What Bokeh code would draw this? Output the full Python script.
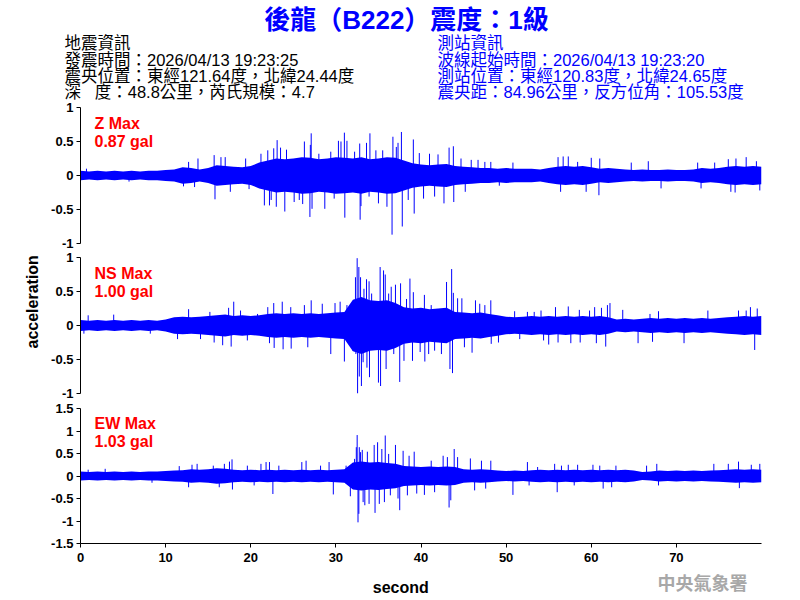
from bokeh.plotting import figure
from bokeh.layouts import column
from bokeh.models import Range1d, FixedTicker, Label, Title
from bokeh.core.properties import value
from bokeh.embed import file_html
from bokeh.resources import INLINE

# ---------------- data ----------------
title_text = "後龍（B222）震度：1級"
quake_info = ["地震資訊", "發震時間：2026/04/13 19:23:25",
              "震央位置：東經121.64度，北緯24.44度",
              "深\u00a0\u00a0\u00a0度：48.8公里，芮氏規模：4.7"]
station_info = ["測站資訊", "波線起始時間：2026/04/13 19:23:20",
                "測站位置：東經120.83度，北緯24.65度",
                "震央距：84.96公里，反方位角：105.53度"]
components = ["Z", "NS", "EW"]
max_labels = ["0.87 gal", "1.00 gal", "1.03 gal"]

sec = [0, 1, 2, 3, 4, 5, 6, 7, 8, 9, 10, 11, 12, 13, 14, 15, 16, 17, 18, 19, 20,
       21, 22, 23, 24, 25, 26, 27, 28, 29, 30, 31, 32, 33, 34, 35, 36, 37, 38, 39, 40,
       41, 42, 43, 44, 45, 46, 47, 48, 49, 50, 51, 52, 53, 54, 55, 56, 57, 58, 59, 60,
       61, 62, 63, 64, 65, 66, 67, 68, 69, 70, 71, 72, 73, 74, 75, 76, 77, 78, 79, 80]

# dense core amplitude (read per second)
z_core = [0.07, 0.06, 0.07, 0.06, 0.07, 0.06, 0.07, 0.06, 0.07, 0.07,
          0.08, 0.09, 0.12, 0.11, 0.09, 0.11, 0.15, 0.14, 0.13, 0.12, 0.14,
          0.19, 0.22, 0.25, 0.24, 0.25, 0.27, 0.26, 0.24, 0.25, 0.27, 0.26, 0.25,
          0.27, 0.24, 0.25, 0.27, 0.26, 0.22, 0.18, 0.16, 0.15, 0.16, 0.17, 0.14,
          0.13, 0.12, 0.11, 0.11, 0.10, 0.11, 0.10, 0.10, 0.10, 0.09, 0.11,
          0.13, 0.14, 0.13, 0.14, 0.12, 0.10, 0.11, 0.10, 0.09,
          0.08, 0.09, 0.08, 0.08, 0.09, 0.08, 0.08, 0.09, 0.11, 0.10, 0.11,
          0.13, 0.14, 0.13, 0.14, 0.13]
ns_core = [0.08, 0.07, 0.08, 0.07, 0.08, 0.07, 0.08, 0.07, 0.08, 0.07, 0.09,
           0.12, 0.13, 0.12, 0.13, 0.14, 0.15, 0.16, 0.14, 0.15, 0.14, 0.15,
           0.17, 0.18, 0.17, 0.18, 0.17, 0.18, 0.17, 0.18, 0.19, 0.20,
           0.38, 0.42, 0.37, 0.36, 0.37, 0.33, 0.27, 0.25, 0.26, 0.24, 0.25, 0.26,
           0.20, 0.19, 0.18, 0.19, 0.17, 0.15, 0.13, 0.12, 0.13,
           0.14, 0.13, 0.14, 0.13, 0.14, 0.13, 0.14, 0.13, 0.14, 0.12,
           0.09, 0.10, 0.09, 0.10, 0.11, 0.10, 0.11, 0.10, 0.11, 0.10,
           0.11, 0.10, 0.11, 0.12, 0.13, 0.14, 0.13, 0.14]
ew_core = [0.10, 0.09, 0.10, 0.09, 0.10, 0.09, 0.10, 0.09, 0.10, 0.10,
           0.11, 0.12, 0.13, 0.15, 0.14, 0.15, 0.17, 0.16,
           0.14, 0.13, 0.14, 0.13, 0.14, 0.13, 0.14, 0.13, 0.14, 0.13, 0.14, 0.13, 0.14, 0.15,
           0.30, 0.32, 0.30, 0.31, 0.29, 0.27, 0.22, 0.21, 0.20, 0.21, 0.20, 0.21, 0.20,
           0.15, 0.14, 0.15, 0.14, 0.12, 0.11, 0.12, 0.11,
           0.13, 0.14, 0.13, 0.14, 0.13, 0.14, 0.13, 0.14, 0.13, 0.14, 0.13, 0.14, 0.12,
           0.09, 0.10, 0.12, 0.11, 0.12, 0.11, 0.12, 0.11, 0.12, 0.13,
           0.14, 0.15, 0.14, 0.15, 0.14]

# prominent peaks (time s, acceleration)
z_spk_t = [0.7, 5.7, 12.1, 12.7, 13.4, 13.8, 15.7, 15.8, 16.5, 17.0, 17.6, 19.4, 19.8, 21.2, 21.6, 22.0, 22.2,
           22.4, 22.7, 23.0, 23.1, 23.5, 24.0, 24.2, 25.1, 25.7, 26.1, 26.3, 26.95, 27.0, 27.1, 27.2, 28.0,
           28.7, 29.4, 29.8, 30.3, 30.6, 31.0, 31.05, 31.3, 32.2, 32.8, 32.85, 32.95, 33.6, 33.9, 34.0, 34.7,
           35.0, 35.5, 36.0, 36.6, 36.7, 37.1, 37.3, 37.7, 37.8, 38.5, 39.1, 39.2, 39.8, 40.3, 41.0, 41.6,
           42.0, 42.7, 43.3, 43.8, 43.85, 44.7, 45.2, 45.9, 46.7, 47.5, 48.2, 49.2, 50.8,
           56.1, 56.4, 56.7, 57.3, 58.4, 59.4, 60.0, 60.9, 61.0, 64.7, 66.7, 68.2, 72.5, 72.9, 74.5,
           76.1, 76.4, 76.9, 77.0, 78.2, 79.4, 79.8]
z_spk_v = [0.10, -0.09, -0.16, 0.20, -0.17, 0.25, 0.30, -0.35, 0.27, 0.27, -0.24, 0.25, -0.20, 0.32, -0.44, 0.37, -0.44,
           -0.36, 0.40, -0.46, 0.52, 0.41, -0.53, 0.38, -0.39, -0.36, -0.42, 0.50, -0.61, 0.45, 0.62, -0.49, 0.32,
           -0.49, 0.35, -0.34, 0.51, 0.50, 0.63, -0.62, 0.51, 0.35, 0.47, -0.65, -0.45, 0.48, -0.31, 0.62, 0.37,
           -0.41, 0.37, -0.46, -0.87, 0.57, 0.42, 0.48, 0.64, -0.75, -0.36, 0.53, -0.56, 0.33, -0.34, 0.32, -0.31,
           0.31, -0.41, 0.41, 0.43, -0.39, 0.25, -0.24, 0.23, 0.23, 0.20, 0.20, -0.15, 0.19,
           0.27, -0.24, 0.28, 0.28, 0.20, -0.24, 0.26, -0.29, 0.25, 0.19, 0.21, -0.19, 0.19, -0.19, 0.19,
           0.24, -0.24, -0.25, 0.25, 0.27, 0.21, -0.22]

ns_spk_t = [0.4, 0.9, 3.9, 8.2, 11.4, 12.7, 14.1, 15.2, 15.7, 16.7, 17.4, 17.7, 18.0, 18.8, 19.6, 20.8, 22.0, 22.2,
            22.7, 22.75, 23.7, 23.8, 24.7, 24.75, 26.3, 26.7, 27.1, 28.4, 29.4, 29.9, 30.5, 31.0, 31.3, 32.0,
            32.3, 32.35, 32.5, 32.55, 32.7, 32.75, 32.9, 33.0, 33.2, 33.3, 33.6, 33.65, 33.9, 33.95, 34.2,
            35.0, 35.2, 35.25, 35.6, 35.8, 35.9, 36.2, 36.5, 36.8, 37.0, 37.5, 37.6, 38.0, 38.3, 38.7, 39.0,
            39.1, 39.9, 40.4, 40.45, 40.9, 41.2, 41.6, 42.4, 43.0, 43.4, 43.6, 43.7, 43.8, 44.3, 44.8, 45.1,
            46.0, 46.4, 46.9, 47.5, 48.2, 48.25, 49.1, 51.0, 51.6, 52.5,
            53.3, 54.1, 54.4, 55.0, 55.8, 56.1, 57.3, 57.6, 58.6, 58.7, 59.8, 60.4, 60.6, 61.2, 61.7, 61.9,
            62.2, 63.7, 65.5, 66.9, 67.2, 67.9, 70.9, 73.7, 77.3, 78.2, 78.7, 79.2, 79.5]
ns_spk_v = [-0.12, 0.15, 0.16, -0.12, -0.20, 0.24, -0.20, 0.20, -0.25, -0.29, 0.26, -0.31, 0.35, 0.22, -0.22, 0.17, 0.27, -0.26,
            0.33, -0.33, 0.35, -0.35, 0.27, -0.34, 0.30, -0.32, 0.37, 0.32, -0.42, 0.33, 0.35, -0.53, 0.30, -0.37,
            0.71, -0.42, 0.99, -1.00, 0.86, -0.75, 0.71, -0.89, -0.54, 0.54, 0.68, -0.62, 0.65, -0.76, 0.47,
            -0.84, 0.86, -0.89, 0.81, 0.75, -0.64, 0.47, 0.57, -0.42, 0.60, -0.83, 0.62, -0.52, 0.39, 0.69, -0.52,
            0.49, -0.39, 0.45, -0.53, -0.42, 0.30, -0.37, -0.42, 0.64, -0.64, 0.83, -0.70, 0.48, 0.40, 0.40, -0.32,
            -0.40, 0.37, 0.32, 0.30, 0.37, -0.27, -0.25, 0.21, -0.20, 0.20,
            0.20, 0.22, -0.22, -0.28, 0.27, -0.25, 0.28, -0.26, 0.23, -0.25, 0.22, 0.27, -0.26, 0.26, -0.31, 0.30,
            0.33, 0.23, -0.26, 0.17, -0.24, 0.21, -0.26, 0.22, 0.22, 0.22, 0.27, -0.36, 0.25]

ew_spk_t = [0.9, 2.9, 8.4, 11.6, 12.7, 13.1, 13.7, 15.6, 16.3, 16.9, 17.5, 17.8, 17.85, 19.6, 20.4, 21.2, 21.8, 22.2,
            22.6, 23.3, 26.0, 26.5, 28.2, 29.2, 29.7, 31.2, 31.7, 32.2, 32.4, 32.5, 32.6, 32.7, 32.75, 32.9,
            33.1, 33.2, 33.4, 33.7, 33.9, 34.5, 34.6, 34.9, 35.1, 35.4, 35.7, 35.8, 36.2, 36.4, 37.0, 37.3,
            37.5, 37.9, 38.4, 38.6, 39.2, 39.5, 40.4, 41.2, 41.6, 42.6, 43.1, 43.3, 43.5, 43.9, 44.3, 45.8,
            46.3, 47.1, 47.6, 48.2, 50.8, 52.5, 52.7,
            53.7, 55.7, 56.0, 56.5, 57.3, 58.0, 58.4, 60.2, 61.0, 61.4, 62.4, 62.9, 66.5, 67.7, 67.9, 74.4,
            76.1, 77.3, 77.4, 78.8, 79.8]
ew_spk_v = [0.14, 0.16, -0.15, 0.22, -0.25, 0.25, 0.27, 0.23, -0.25, 0.27, 0.32, 0.37, -0.30, 0.23, -0.21, 0.27, 0.31, 0.31,
            -0.40, 0.23, 0.31, 0.34, 0.23, 0.31, -0.41, 0.23, -0.45, 0.38, 0.64, 0.91, -1.03, -0.84, 0.64, 0.53,
            0.58, -0.58, -0.65, 0.54, -0.62, 0.69, -0.82, 0.75, -0.62, 0.60, -0.58, 0.90, 0.49, -0.43, 0.69, -0.50,
            -0.76, 0.56, -0.43, 0.45, 0.54, -0.39, -0.42, 0.34, -0.36, 0.45, 0.42, -0.70, -0.54, 0.60, 0.42, 0.39,
            -0.32, 0.34, -0.28, 0.34, -0.42, 0.31, -0.21,
            0.20, 0.27, -0.36, 0.23, 0.25, -0.21, 0.25, 0.25, 0.23, -0.28, -0.25, 0.23, 0.23, 0.27, -0.21, 0.27,
            0.27, 0.32, -0.27, 0.25, 0.27]

x_ticks = [0, 10, 20, 30, 40, 50, 60, 70]
y_ticks_1 = [-1, -0.5, 0, 0.5, 1]
y_labels_1 = ["-1", "-0.5", "0", "0.5", "1"]
y_ticks_3 = [-1.5, -1, -0.5, 0, 0.5, 1, 1.5]
y_labels_3 = ["-1.5", "-1", "-0.5", "0", "0.5", "1", "1.5"]

# ---------------- style ----------------
BLUE = "#0000ff"
RED = "#ff0000"
LAT = "Liberation Sans"
MIX = "Liberation Sans, Noto Sans CJK TC"
W = 795
BL, FW = 80, 681
BR = W - BL - FW


def text_fig(height):
    p = figure(width=W, height=height, x_range=Range1d(0, W), y_range=Range1d(height, 0),
               output_backend="svg", toolbar_location=None, title=None,
               x_axis_location=None, y_axis_location=None,
               min_border_left=0, min_border_right=0, min_border_top=0, min_border_bottom=0)
    p.outline_line_color = None
    p.xgrid.visible = False
    p.ygrid.visible = False
    return p


def make_panel(height, top, bottom, yr, ticks, labels, core, st, sv, show_x=False):
    p = figure(width=W, height=height, x_range=Range1d(0, 80), y_range=Range1d(*yr),
               output_backend="svg", toolbar_location=None,
               x_axis_location="below" if show_x else None,
               min_border_left=BL, min_border_right=BR,
               min_border_top=top, min_border_bottom=bottom)
    p.outline_line_color = None
    p.xgrid.visible = False
    p.ygrid.visible = False
    ya = p.yaxis[0]
    ya.ticker = FixedTicker(ticks=ticks)
    ya.major_label_overrides = {t: l for t, l in zip(ticks, labels)}
    axes = [ya]
    if show_x:
        xa = p.xaxis[0]
        xa.ticker = FixedTicker(ticks=x_ticks)
        xa.major_label_overrides = {t: str(t) for t in x_ticks}
        axes.append(xa)
    for a in axes:
        a.axis_line_color = "black"
        a.axis_line_width = 1
        a.major_tick_line_color = "black"
        a.major_tick_out = 4
        a.major_tick_in = 0
        a.minor_tick_line_color = None
        a.major_label_text_font = LAT
        a.major_label_text_font_style = "bold"
        a.major_label_text_font_size = "13px"
        a.major_label_text_color = "black"
    ya.major_label_standoff = 3
    lo = [-c for c in core]
    p.varea(x=sec, y1=lo, y2=core, fill_color=BLUE, fill_alpha=1.0)
    p.segment(x0=st, y0=[0] * len(st), x1=st, y1=sv, line_color=BLUE, line_width=1)
    return p


# header with title and information (pixel coordinates)
hdr = text_fig(100)
hdr.text(x=[406], y=[19], text=[title_text], text_align="center", text_baseline="alphabetic",
         text_font=value(MIX), text_font_size="26px", text_font_style="bold", text_color=BLUE)
info_y = [42, 59, 75.5, 91]
hdr.text(x=[64] * 4, y=info_y, text=quake_info, text_align="left", text_baseline="alphabetic",
         text_font=value(MIX), text_font_size="16.5px", text_color="black")
hdr.text(x=[437] * 4, y=info_y, text=station_info, text_align="left", text_baseline="alphabetic",
         text_font=value(MIX), text_font_size="16.5px", text_color=BLUE)

p1 = make_panel(150, 7, 7, (-1, 1), y_ticks_1, y_labels_1, z_core, z_spk_t, z_spk_v)
p2 = make_panel(150, 7, 7, (-1, 1), y_ticks_1, y_labels_1, ns_core, ns_spk_t, ns_spk_v)
p3 = make_panel(170, 8, 27, (-1.5, 1.5), y_ticks_3, y_labels_3, ew_core, ew_spk_t, ew_spk_v, show_x=True)

p2.add_layout(Title(text="acceleration", align="left", offset=45, standoff=16, text_font=LAT,
                    text_font_size="16px", text_font_style="bold", text_color="black"), "left")

# max annotations
for p, comp, ml, y1, y2 in [(p1, components[0], max_labels[0], 0.76, 0.504),
                            (p2, components[1], max_labels[1], 0.76, 0.504),
                            (p3, components[2], max_labels[2], 1.16, 0.773)]:
    p.add_layout(Label(x=1.645, y=y1, text=comp + " Max", text_font=LAT, text_font_size="16px",
                       text_font_style="bold", text_color=RED, text_baseline="alphabetic"))
    p.add_layout(Label(x=1.645, y=y2, text=ml, text_font=LAT, text_font_size="16px",
                       text_font_style="bold", text_color=RED, text_baseline="alphabetic"))

ftr = text_fig(26)
ftr.text(x=[400.3], y=[16.5], text=["second"], text_align="center", text_baseline="alphabetic",
         text_font=value(LAT), text_font_size="16px", text_font_style="bold", text_color="black")
ftr.text(x=[702], y=[11], text=["中央氣象署"], text_align="center", text_baseline="middle",
         text_font=value("Noto Sans CJK TC"), text_font_size="18px", text_font_style="bold",
         text_color="#a8a8a8")

panels = column(p1, p2, p3, spacing=0)
layout = column(hdr, panels, ftr, spacing=0)
open("out.html", "w").write(file_html(layout, INLINE))
